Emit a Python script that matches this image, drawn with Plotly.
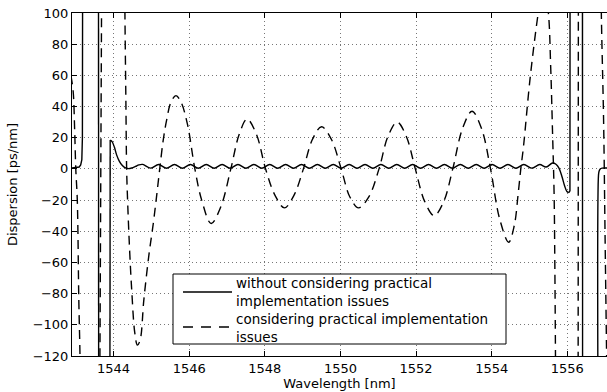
import plotly.graph_objects as go

# ---------------- data ----------------
NAME_SOLID = "without considering practical<br>implementation issues"
NAME_DASH = "considering practical implementation<br>issues"

# solid curve: pieces (pole segments run off-axis)
solid_left_x = [1542.88, 1543.02, 1543.09, 1543.13, 1543.16, 1543.175, 1543.185]
solid_left_y = [0.5, 0.7, 1.2, 2.5, 6, 20, 200]
solid_pole1_x = [1543.60, 1543.605]
solid_pole1_y = [200, -200]
solid_rise_x = [1543.90, 1543.91]
solid_rise_y = [-200, 18.5]
solid_mid_x = [1543.91, 1543.96, 1544.02, 1544.08, 1544.15, 1544.22, 1544.30, 1544.39,
               1544.48, 1544.58, 1544.67, 1544.77, 1544.98, 1545.19, 1545.40, 1545.61,
               1545.82, 1546.03, 1546.24, 1546.45, 1546.66, 1546.87, 1547.08, 1547.29,
               1547.50, 1547.71, 1547.92, 1548.13, 1548.34, 1548.55, 1548.76, 1548.97,
               1549.18, 1549.39, 1549.60, 1549.81, 1550.02, 1550.23, 1550.44, 1550.65,
               1550.86, 1551.07, 1551.28, 1551.49, 1551.70, 1551.91, 1552.12, 1552.33,
               1552.54, 1552.75, 1552.96, 1553.17, 1553.38, 1553.59, 1553.80, 1554.01,
               1554.22, 1554.43, 1554.64, 1554.85, 1555.06, 1555.27, 1555.44, 1555.61,
               1555.70, 1555.78, 1555.86, 1555.93, 1555.99, 1556.04]
solid_mid_y = [18.5, 17.5, 14, 9, 5, 2.5, 0.8, 0.2,
               0.6, 1.6, 2.6, 2.9, 0.5, 2.8, 0.4, 2.8,
               0.4, 2.8, 0.4, 2.8, 0.4, 2.8, 0.4, 2.8,
               0.4, 2.8, 0.4, 2.8, 0.4, 2.8, 0.4, 2.8,
               0.4, 2.8, 0.4, 2.8, 0.4, 2.8, 0.4, 2.8,
               0.4, 2.8, 0.4, 2.8, 0.4, 2.8, 0.4, 2.8,
               0.4, 2.8, 0.4, 2.8, 0.4, 2.8, 0.4, 2.8,
               0.4, 2.8, 0.4, 2.8, 0.5, 2.8, 1.2, 3.8,
               3.0, 0.5, -5, -11, -14.5, -15.2]
solid_up2_x = [1556.04, 1556.07, 1556.075]
solid_up2_y = [-15.2, -14, 200]
solid_pole2_x = [1556.40, 1556.405]
solid_pole2_y = [200, -200]
solid_right_x = [1556.82, 1556.825, 1556.84, 1556.87, 1556.92, 1557.10]
solid_right_y = [-200, -4, -1.5, 0, 0.5, 0.5]

# dashed curve
dash_left_x = [1542.87, 1542.93, 1542.97, 1543.00, 1543.04, 1543.08, 1543.11, 1543.13]
dash_left_y = [60, 50, 25, 0, -20, -84, -118, -160]
dash_pole1_x = [1543.635, 1543.685]
dash_pole1_y = [-140, 120]
dash_wave_x = [1544.29, 1544.30, 1544.325, 1544.345, 1544.37, 1544.42, 1544.48, 1544.56,
               1544.63, 1544.70, 1544.80, 1544.93, 1545.05, 1545.14, 1545.22, 1545.31,
               1545.40, 1545.52, 1545.65, 1545.78, 1545.95, 1546.15, 1546.33, 1546.58,
               1546.84, 1547.10, 1547.32, 1547.53, 1547.78, 1548.02, 1548.27, 1548.52,
               1548.77, 1549.02, 1549.26, 1549.50, 1549.76, 1550.02, 1550.25, 1550.48,
               1550.75, 1551.02, 1551.26, 1551.50, 1551.74, 1551.98, 1552.23, 1552.48,
               1552.73, 1552.97, 1553.23, 1553.48, 1553.73, 1553.97, 1554.21, 1554.45,
               1554.60, 1554.70, 1554.77, 1554.84, 1555.02, 1555.23, 1555.37, 1555.50,
               1555.56, 1555.61, 1555.65, 1555.67, 1555.69]
dash_wave_y = [140, 100, 44, 0, -20, -50, -78, -105,
               -113, -110, -84, -56, -35, -17, 0, 18,
               31, 43, 47, 43, 29, 0, -20, -35,
               -24, 0, 22, 32, 22, 0, -17, -25,
               -17, 0, 19, 27, 19, 0, -18, -25,
               -18, 0, 21, 30, 21, 0, -21, -30,
               -21, 0, 26, 37, 26, 0, -32, -47,
               -36, -16, 0, 14, 59, 100, 122, 100,
               66, 23, -15, -60, -130]
dash_pole2_x = [1556.285, 1556.295]
dash_pole2_y = [-200, 200]
dash_right_x = [1556.88, 1556.90, 1556.96, 1557.00, 1557.04]
dash_right_y = [150, 100, 31, -45, -120]

x_ticks = [1544, 1546, 1548, 1550, 1552, 1554, 1556]
y_ticks = [100, 80, 60, 40, 20, 0, -20, -40, -60, -80, -100, -120]

# ---------------- figure ----------------
FONT = "DejaVu Sans"
W, H = 607, 392
ML, MR, MT, MB = 72, 0, 13, 36
PW, PH = W - ML - MR, H - MT - MB

def px_x(p):
    return (p - ML) / PW

def px_y(p):
    return (H - MB - p) / PH

solid_line = dict(color="black", width=1.4)
dash_line = dict(color="black", width=1.4, dash="9px,6px")

fig = go.Figure()

solid_pieces = [
    (solid_left_x, solid_left_y, "linear"),
    (solid_pole1_x, solid_pole1_y, "linear"),
    (solid_rise_x, solid_rise_y, "linear"),
    (solid_mid_x, solid_mid_y, "spline"),
    (solid_up2_x, solid_up2_y, "linear"),
    (solid_pole2_x, solid_pole2_y, "linear"),
    (solid_right_x, solid_right_y, "spline"),
]
for xs, ys, shp in solid_pieces:
    fig.add_trace(go.Scatter(
        x=xs, y=ys, mode="lines", name=NAME_SOLID.replace("<br>", " "),
        legendgroup="solid", showlegend=False,
        line=dict(solid_line, shape=shp), hoverinfo="skip"))

dash_pieces = [
    (dash_left_x, dash_left_y, "spline"),
    (dash_pole1_x, dash_pole1_y, "linear"),
    (dash_wave_x, dash_wave_y, "spline"),
    (dash_pole2_x, dash_pole2_y, "linear"),
    (dash_right_x, dash_right_y, "spline"),
]
for xs, ys, shp in dash_pieces:
    fig.add_trace(go.Scatter(
        x=xs, y=ys, mode="lines", name=NAME_DASH.replace("<br>", " "),
        legendgroup="dash", showlegend=False,
        line=dict(dash_line, shape=shp), hoverinfo="skip"))

# ---- legend box (drawn to match the reference's compact layout) ----
LEG_L, LEG_R, LEG_T, LEG_B = 173, 506, 274, 344
SAMPLE_X0, SAMPLE_X1, TEXT_X = 183, 232, 235
shapes = [
    dict(type="rect", xref="paper", yref="paper",
         x0=px_x(LEG_L), x1=px_x(LEG_R), y0=px_y(LEG_B), y1=px_y(LEG_T),
         line=dict(color="black", width=1), fillcolor="white", layer="above"),
    dict(type="line", xref="paper", yref="paper",
         x0=px_x(SAMPLE_X0), x1=px_x(SAMPLE_X1), y0=px_y(292), y1=px_y(292),
         line=dict(color="black", width=1.4), layer="above"),
    dict(type="line", xref="paper", yref="paper",
         x0=px_x(SAMPLE_X0), x1=px_x(SAMPLE_X1), y0=px_y(327), y1=px_y(327),
         line=dict(color="black", width=1.4, dash="10px,8px"), layer="above"),
]
annotations = []
for text, yc in zip([NAME_SOLID, NAME_DASH], [292, 327.5]):
    annotations.append(dict(
        xref="paper", yref="paper", x=px_x(TEXT_X), y=px_y(yc),
        xanchor="left", yanchor="middle", align="left", text=text,
        showarrow=False, font=dict(family=FONT, size=13.5, color="black"),
        borderpad=0))

axis_common = dict(
    showline=True, linecolor="black", linewidth=1,
    ticks="inside", ticklen=5, tickcolor="black", tickwidth=1,
    showgrid=True, gridcolor="#777777", gridwidth=1, griddash="1px,3px",
    zeroline=False,
    tickfont=dict(family=FONT, size=13, color="black"),
)

fig.update_layout(
    width=W, height=H,
    margin=dict(l=ML, r=MR, t=MT, b=MB),
    paper_bgcolor="white", plot_bgcolor="white",
    font=dict(family=FONT, size=13, color="black"),
    showlegend=False,
    shapes=shapes,
    annotations=annotations,
    xaxis=dict(
        axis_common, range=[1542.9, 1557.05], tickvals=x_ticks,
        mirror="ticks",
        title=dict(text="Wavelength [nm]", standoff=4,
                   font=dict(family=FONT, size=13, color="black")),
    ),
    yaxis=dict(
        axis_common, range=[-120, 100], tickvals=y_ticks,
        title=dict(text="Dispersion [ps/nm]", standoff=12,
                   font=dict(family=FONT, size=13, color="black")),
    ),
)

fig.write_html("out.html")
